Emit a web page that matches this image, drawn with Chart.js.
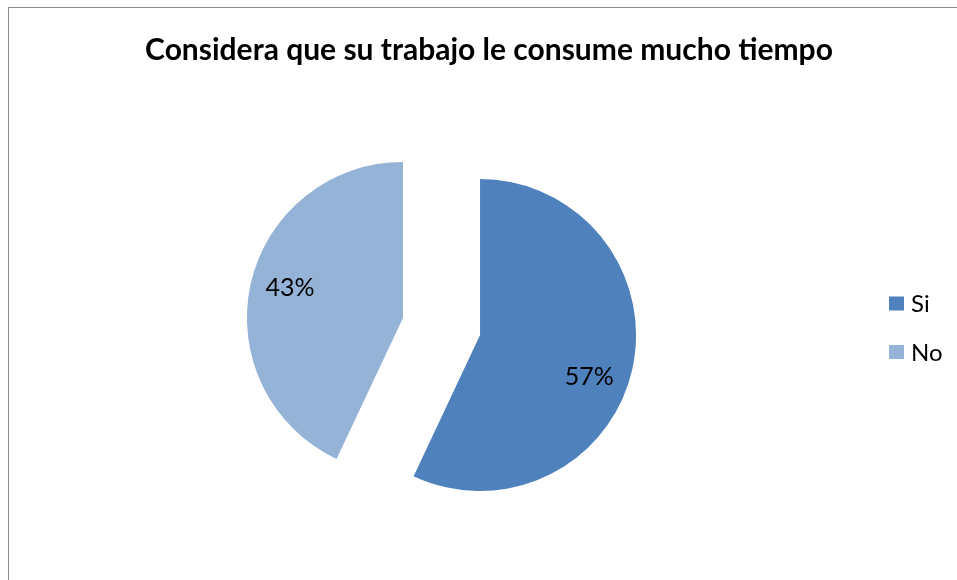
<!DOCTYPE html>
<html>
<head>
<meta charset="utf-8">
<script src="https://cdn.jsdelivr.net/npm/chart.js@4"></script>
<style>
  html, body { margin: 0; padding: 0; background: #fff; }
  #pie { display: block; }
</style>
</head>
<body>
<canvas id="pie" width="957" height="580"></canvas>
<script>
const titleText = 'Considera que su trabajo le consume mucho tiempo';
const labels = ['Si', 'No'];
const values = [57, 43];
const colors = ['#4F81BD', '#95B3D7'];

const EXPLODE = 39.5; // how far each slice is pulled out, px

// frame line around the chart (only top/left fall inside the canvas)
const framePlugin = {
  id: 'frame',
  beforeDraw(chart) {
    const c = chart.ctx;
    c.save();
    c.strokeStyle = '#8c8c8c';
    c.lineWidth = 1;
    c.strokeRect(8.5, 7.5, 1200, 1000);
    c.restore();
  }
};

// draw every slice moved out along its bisector, keeping straight edges
const explodePlugin = {
  id: 'explode',
  beforeDatasetDraw(chart, args) {
    const c = chart.ctx;
    args.meta.data.forEach(arc => {
      const mid = (arc.startAngle + arc.endAngle) / 2;
      c.save();
      c.translate(Math.cos(mid) * EXPLODE, Math.sin(mid) * EXPLODE);
      arc.draw(c);
      c.restore();
    });
    return false;
  }
};

// title, percent labels and legend
const textPlugin = {
  id: 'texts',
  afterDraw(chart) {
    const c = chart.ctx;
    c.save();
    c.fillStyle = '#000';

    c.font = 'bold 30px Lato';
    c.textAlign = 'center';
    c.textBaseline = 'alphabetic';
    c.fillText(titleText, 489, 60);

    // percentages inside slices
    const meta = chart.getDatasetMeta(0);
    const shift = [8.5, 2.4];
    c.font = '25px Lato';
    c.textBaseline = 'middle';
    meta.data.forEach((arc, i) => {
      const mid = (arc.startAngle + arc.endAngle) / 2;
      const sx = arc.x + Math.cos(mid) * EXPLODE;
      const sy = arc.y + Math.sin(mid) * EXPLODE;
      const a = mid + shift[i] * Math.PI / 180;
      const d = arc.outerRadius * 0.75;
      c.fillText(values[i] + '%', sx + Math.cos(a) * d, sy + Math.sin(a) * d);
    });

    // legend on the right
    c.textAlign = 'left';
    c.font = '24px Lato';
    labels.forEach((lab, i) => {
      const cy = 303.5 + i * 48.5;
      c.fillStyle = colors[i];
      c.fillRect(889, cy - 7, 15, 14);
      c.fillStyle = '#000';
      c.fillText(lab, 911, cy + 1);
    });
    c.restore();
  }
};

new Chart(document.getElementById('pie').getContext('2d'), {
  type: 'pie',
  data: {
    labels: labels,
    datasets: [{
      data: values,
      backgroundColor: colors,
      borderWidth: 0
    }]
  },
  options: {
    responsive: false,
    animation: false,
    radius: 156,
    layout: { padding: { left: 100, right: 174, top: 100, bottom: 27 } },
    plugins: {
      legend: { display: false },
      title: { display: false },
      tooltip: { enabled: false }
    }
  },
  plugins: [framePlugin, explodePlugin, textPlugin]
});
</script>
</body>
</html>
